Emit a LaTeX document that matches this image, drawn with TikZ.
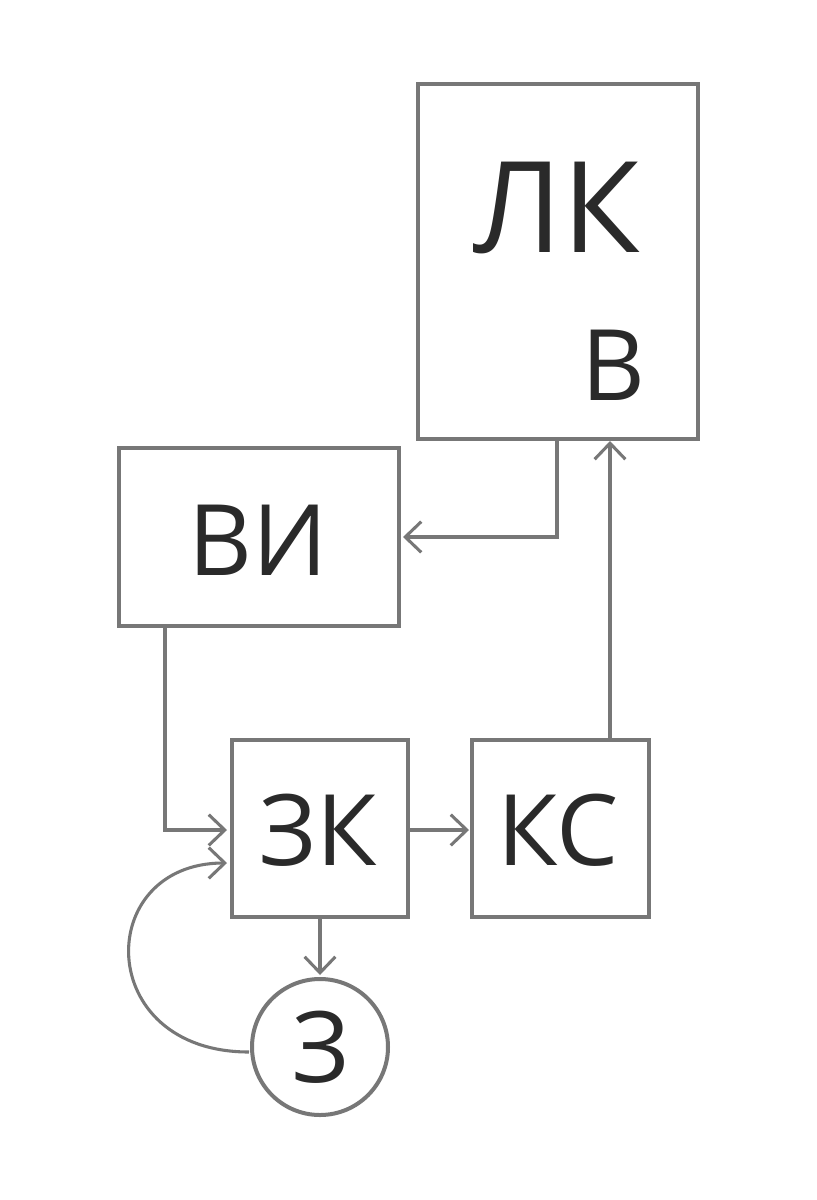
\documentclass[tikz,border=0pt]{standalone}
\usepackage{fontspec}
\setmainfont{Open Sans}
\usetikzlibrary{arrows.meta,calc}
\definecolor{ln}{HTML}{777777}
\definecolor{tx}{HTML}{2A2A2A}
\begin{document}
\begin{tikzpicture}[x=0.75pt,y=-0.75pt,
  box/.style={draw=ln,line width=3pt,inner sep=0pt,fill=white},
  lbl/.style={text=tx,inner sep=0pt,font=\fontsize{74}{80}\selectfont},
  conn/.style={draw=ln,line width=2.3pt,-{Straight Barb[length=12pt,width=23pt,line width=2.3pt]}}]
\useasboundingbox (0,0) rectangle (817,1200);
\fill[white] (0,0) rectangle (817,1200);
% boxes
\node[box,minimum width=210pt,minimum height=266pt] (lk) at (558,261.5) {};
\node[box,minimum width=210pt,minimum height=133.5pt] (vi) at (259,537) {};
\node[box,minimum width=132pt,minimum height=132.75pt] (zk) at (320,828.5) {};
\node[box,minimum width=132.75pt,minimum height=132.75pt] (ks) at (560.5,828.5) {};
\node[box,circle,minimum size=102pt] (z) at (320,1047) {};
% labels
\node[lbl,font=\fontsize{95}{105}\selectfont] (lkt) at (557,208) {ЛК};
\node[lbl] (lkb) at (613,365) {В};
\node[lbl] (vit) at (258,540) {ВИ};
\node[lbl] (zkt) at (318,830) {ЗК};
\node[lbl] (kst) at (558,830) {КС};
\node[lbl] (zt) at (321,1047) {З};
% connectors
\coordinate (a1) at (557,439);
\coordinate (a2) at (403,537);
\draw[conn] (a1) |- (a2);
\coordinate (b1) at (165,626);
\coordinate (b2) at (227,830);
\draw[conn] (b1) |- (b2);
\coordinate (c1) at (408,830);
\coordinate (c2) at (469,830);
\draw[conn] (c1) -- (c2);
\coordinate (d1) at (610,740);
\coordinate (d2) at (610,441);
\draw[conn] (d1) -- (d2);
\coordinate (e1) at (320,917);
\coordinate (e2) at (320,975);
\draw[conn] (e1) -- (e2);
\coordinate (f1) at (249,1052);
\coordinate (f2) at (227,863);
\draw[conn] (f1) .. controls (93,1052) and (93,863) .. (f2);
\end{tikzpicture}
\end{document}
